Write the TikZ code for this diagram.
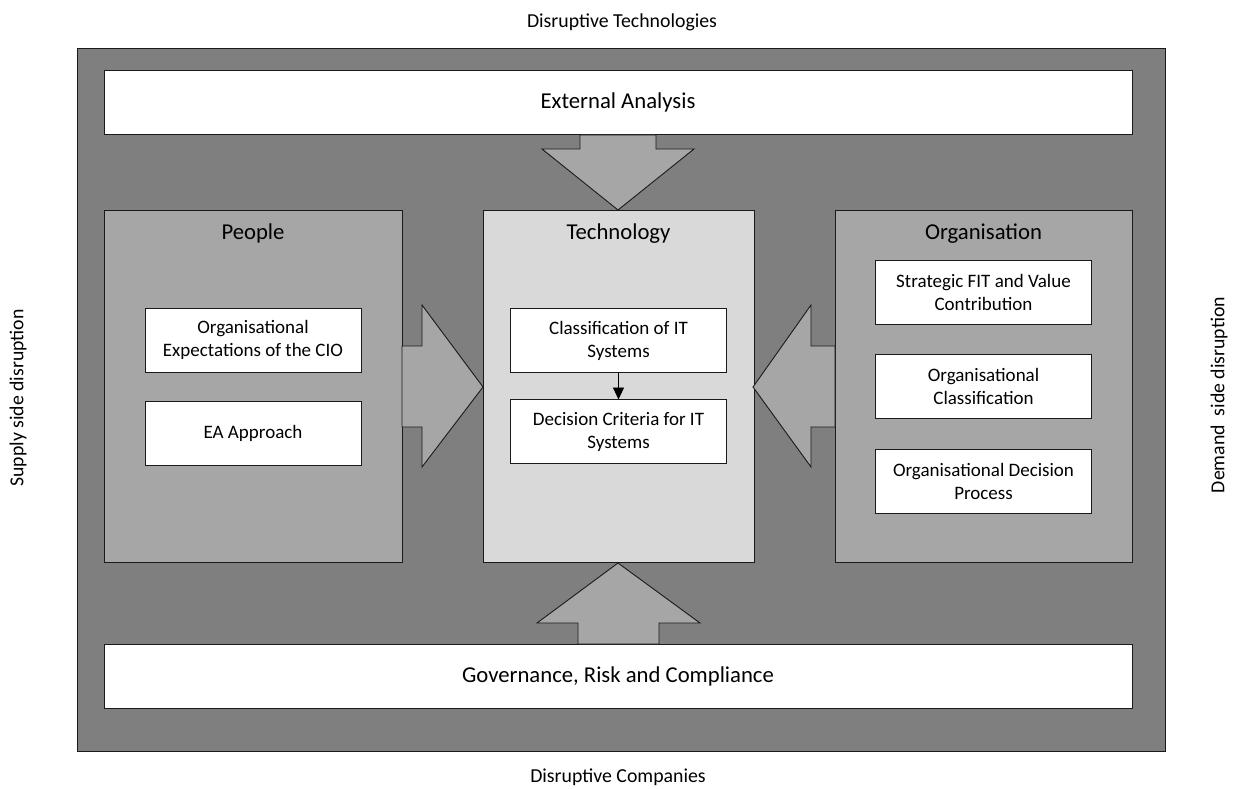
\documentclass[tikz,border=0pt]{standalone}
\usepackage{fontspec}
\setmainfont{Carlito}
\usepackage{tikz}
\usetikzlibrary{arrows.meta, positioning, calc}
\definecolor{frame}{HTML}{7F7F7F}
\definecolor{pillar}{HTML}{A6A6A6}
\definecolor{core}{HTML}{D9D9D9}
\definecolor{edge}{HTML}{1A1A1A}

\begin{document}
\begin{tikzpicture}[x=1pt, y=-1pt,
  box/.style={draw=edge, line width=0.9pt, inner sep=0pt, outer sep=0pt},
  band/.style={box, fill=white, minimum width=1028pt, minimum height=64pt, font=\fontsize{22.7}{27}\selectfont},
  column/.style={box, minimum width=#1, minimum height=352pt},
  item/.style={box, fill=white, minimum width=216pt, minimum height=64pt, align=center,
    font=\fontsize{19}{23}\selectfont},
  title/.style={anchor=base, font=\fontsize{22.7}{27}\selectfont},
  side/.style={font=\fontsize{19.8}{23}\selectfont},
  block/.style={draw=edge, line width=0.9pt, fill=pillar, line join=miter}]
  \useasboundingbox (0,0) rectangle (1237,789);

  % outer frame and the two bands
  \node[box, fill=frame, minimum width=1088pt, minimum height=703pt] (frame) at (621,399.5) {};
  \node[band] (ext) at (618,102.5) {External Analysis};
  \node[band] (grc) at (618,676) {Governance, Risk and Compliance};

  % three columns
  \node[column=298pt, fill=pillar] (people) at (253,386) {};
  \node[column=271pt, fill=core] (tech) at (618.5,386) {};
  \node[column=297pt, fill=pillar] (org) at (983.5,386) {};
  \node[title] (peopletitle) at ($(people.north)+(0,29)$) {People};
  \node[title] (techtitle) at ($(tech.north)+(0,29)$) {Technology};
  \node[title] (orgtitle) at ($(org.north)+(0,29)$) {Organisation};

  % people
  \node[item] (expect) at (253,340) {Organisational\\Expectations of the CIO};
  \node[item, below=29pt of expect] (ea) {EA Approach};

  % technology
  \node[item] (classify) at (618.5,340.5) {Classification of IT\\Systems};
  \node[item, below=27pt of classify] (criteria) {Decision Criteria for IT\\Systems};
  \draw[-{Triangle[length=12pt, width=11pt]}, line width=0.9pt] (classify) -- (criteria);

  % organisation
  \node[item] (fit) at (983.5,292) {Strategic FIT and Value\\Contribution};
  \node[item, below=30pt of fit] (orgclass) {Organisational\\Classification};
  \node[item, below=31pt of orgclass] (orgdec) {Organisational Decision\\Process};

  % block arrows into the technology column
  \draw[block] (580,135) -- (656,135) -- (656,149) -- (694,149) -- (618,210) -- (542,149) -- (580,149) -- cycle;
  \draw[block] (402,346) -- (422,346) -- (422,305) -- (483,387) -- (422,467) -- (422,427) -- (402,427) -- cycle;
  \draw[block] (835,346) -- (811,346) -- (811,305) -- (753,387) -- (811,467) -- (811,427) -- (835,427) -- cycle;
  \draw[block] (578,644) -- (578,623) -- (537,623) -- (618,563) -- (700,623) -- (659,623) -- (659,644) -- cycle;

  % disruption labels round the frame
  \node[side] (tophint) at (622,22) {Disruptive Technologies};
  \node[side] (bottomhint) at (618,777) {Disruptive Companies};
  \node[side, rotate=90] (lefthint) at (18,398) {Supply side disruption};
  \node[side, rotate=90] (righthint) at (1219,395) {Demand\ \ side disruption};
\end{tikzpicture}
\end{document}
